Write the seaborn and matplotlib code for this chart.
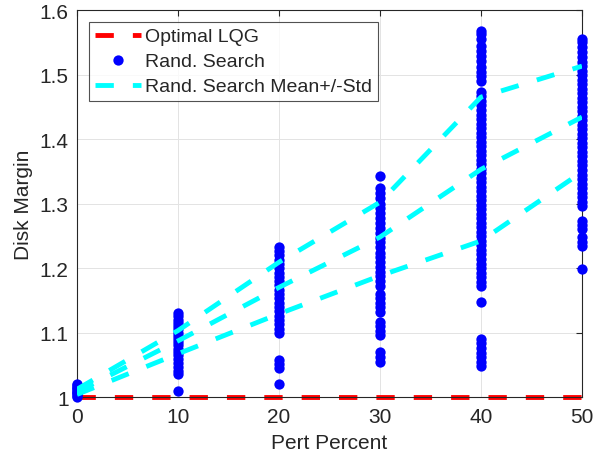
import pandas as pd
import matplotlib
matplotlib.use("Agg")
import matplotlib.pyplot as plt
from matplotlib.collections import PathCollection
import seaborn as sns

# perturbation levels and summary curves
pert_percent = [0, 10, 20, 30, 40, 50]
optimal_lqg = [1.0, 1.0, 1.0, 1.0, 1.0, 1.0]
search_mean = [1.008, 1.087, 1.170, 1.248, 1.353, 1.434]
search_upper = [1.012, 1.103, 1.209, 1.302, 1.465, 1.513]
search_lower = [1.004, 1.067, 1.129, 1.188, 1.242, 1.349]

# random search disk margins per perturbation level
dm_0 = [1.000, 1.002, 1.004, 1.006, 1.008, 1.010, 1.012, 1.014, 1.016, 1.018, 1.020]
dm_10 = [1.010, 1.035, 1.041, 1.047, 1.053, 1.059, 1.065, 1.070, 1.075, 1.080, 1.085,
         1.090, 1.095, 1.100, 1.105, 1.110, 1.115, 1.120, 1.125, 1.130]
dm_20 = [1.020, 1.045, 1.051, 1.057, 1.099, 1.106, 1.113, 1.120, 1.126, 1.133, 1.140,
         1.146, 1.153, 1.160, 1.166, 1.173, 1.180, 1.186, 1.193, 1.200, 1.206, 1.213,
         1.220, 1.226, 1.232]
dm_30 = [1.055, 1.062, 1.070, 1.096, 1.103, 1.110, 1.116, 1.132, 1.139, 1.146, 1.153,
         1.160, 1.172, 1.180, 1.187, 1.194, 1.202, 1.209, 1.217, 1.224, 1.232, 1.240,
         1.247, 1.255, 1.262, 1.270, 1.278, 1.285, 1.293, 1.300, 1.308, 1.316, 1.324,
         1.342]
dm_40 = [1.048, 1.055, 1.062, 1.069, 1.076, 1.083, 1.090, 1.147, 1.172, 1.179, 1.186,
         1.193, 1.200, 1.207, 1.214, 1.221, 1.228, 1.235, 1.242, 1.249, 1.256, 1.263,
         1.270, 1.277, 1.284, 1.291, 1.298, 1.305, 1.312, 1.319, 1.326, 1.333, 1.340,
         1.347, 1.354, 1.361, 1.368, 1.375, 1.382, 1.389, 1.396, 1.403, 1.410, 1.417,
         1.424, 1.431, 1.438, 1.445, 1.452, 1.459, 1.466, 1.473, 1.490, 1.497, 1.504,
         1.512, 1.521, 1.528, 1.536, 1.544, 1.555, 1.563, 1.567]
dm_50 = [1.198, 1.234, 1.241, 1.248, 1.260, 1.267, 1.273, 1.296, 1.303, 1.310, 1.317,
         1.324, 1.331, 1.338, 1.345, 1.352, 1.359, 1.366, 1.373, 1.380, 1.387, 1.394,
         1.401, 1.408, 1.415, 1.422, 1.429, 1.436, 1.443, 1.450, 1.457, 1.464, 1.471,
         1.478, 1.485, 1.492, 1.499, 1.506, 1.513, 1.520, 1.527, 1.535, 1.543, 1.550,
         1.555]

y_ticks = [1.0, 1.1, 1.2, 1.3, 1.4, 1.5, 1.6]
y_tick_labels = ["1", "1.1", "1.2", "1.3", "1.4", "1.5", "1.6"]

rows = []
for p, vals in zip(pert_percent, [dm_0, dm_10, dm_20, dm_30, dm_40, dm_50]):
    for v in vals:
        rows.append({"pert": p, "margin": v})
df = pd.DataFrame(rows)

sns.set_style("white")
plt.rcParams["font.family"] = ["Liberation Sans", "DejaVu Sans"]
plt.rcParams["lines.scale_dashes"] = False

fig = plt.figure(figsize=(6.08, 4.64), dpi=100)
ax = fig.add_axes([0.1266, 0.1422, 0.8306, 0.834])

dash = (0, (13.2, 13.7))
sns.lineplot(x=pert_percent, y=optimal_lqg, color="red", lw=3.5, linestyle=dash,
             errorbar=None, ax=ax, clip_on=False, zorder=2)
sns.scatterplot(data=df, x="pert", y="margin", color="blue", marker="o", s=55,
                linewidth=0, ax=ax, clip_on=False, zorder=3)
for curve in [search_upper, search_mean, search_lower]:
    sns.lineplot(x=pert_percent, y=curve, color="cyan", lw=3.5, linestyle=dash,
                 errorbar=None, ax=ax, zorder=4)

pts = [c for c in ax.collections if isinstance(c, PathCollection)][0]
handles = [ax.lines[0], pts, ax.lines[1]]
labels = ["Optimal LQG", "Rand. Search", "Rand. Search Mean+/-Std"]
leg = ax.legend(handles, labels, loc="upper left", bbox_to_anchor=(0.0238, 0.969),
                borderaxespad=0, fontsize=14, frameon=True, fancybox=False,
                handlelength=2.4, handletextpad=0.2, borderpad=0.3,
                labelspacing=0.38, scatterpoints=1, scatteryoffsets=[0.5])
leg.get_frame().set_edgecolor("#262626")
leg.get_frame().set_linewidth(0.8)

ax.set_xlim(0, 50)
ax.set_ylim(1.0, 1.6)
ax.set_xticks(pert_percent)
ax.set_yticks(y_ticks)
ax.set_yticklabels(y_tick_labels)
ax.grid(True, color="#e3e3e3", lw=0.7)
ax.set_axisbelow(True)
for s in ax.spines.values():
    s.set_visible(True)
    s.set_color("#262626")
    s.set_linewidth(0.8)
ax.tick_params(direction="in", top=True, right=True, length=4, width=0.8,
               colors="#262626", labelsize=15)
ax.tick_params(axis="x", pad=7)
ax.tick_params(axis="y", pad=6)
ax.set_xlabel("Pert Percent", fontsize=15, color="#262626", labelpad=5)
ax.set_ylabel("Disk Margin", fontsize=15, color="#262626", labelpad=5)

fig.savefig("out.png", dpi=100)
